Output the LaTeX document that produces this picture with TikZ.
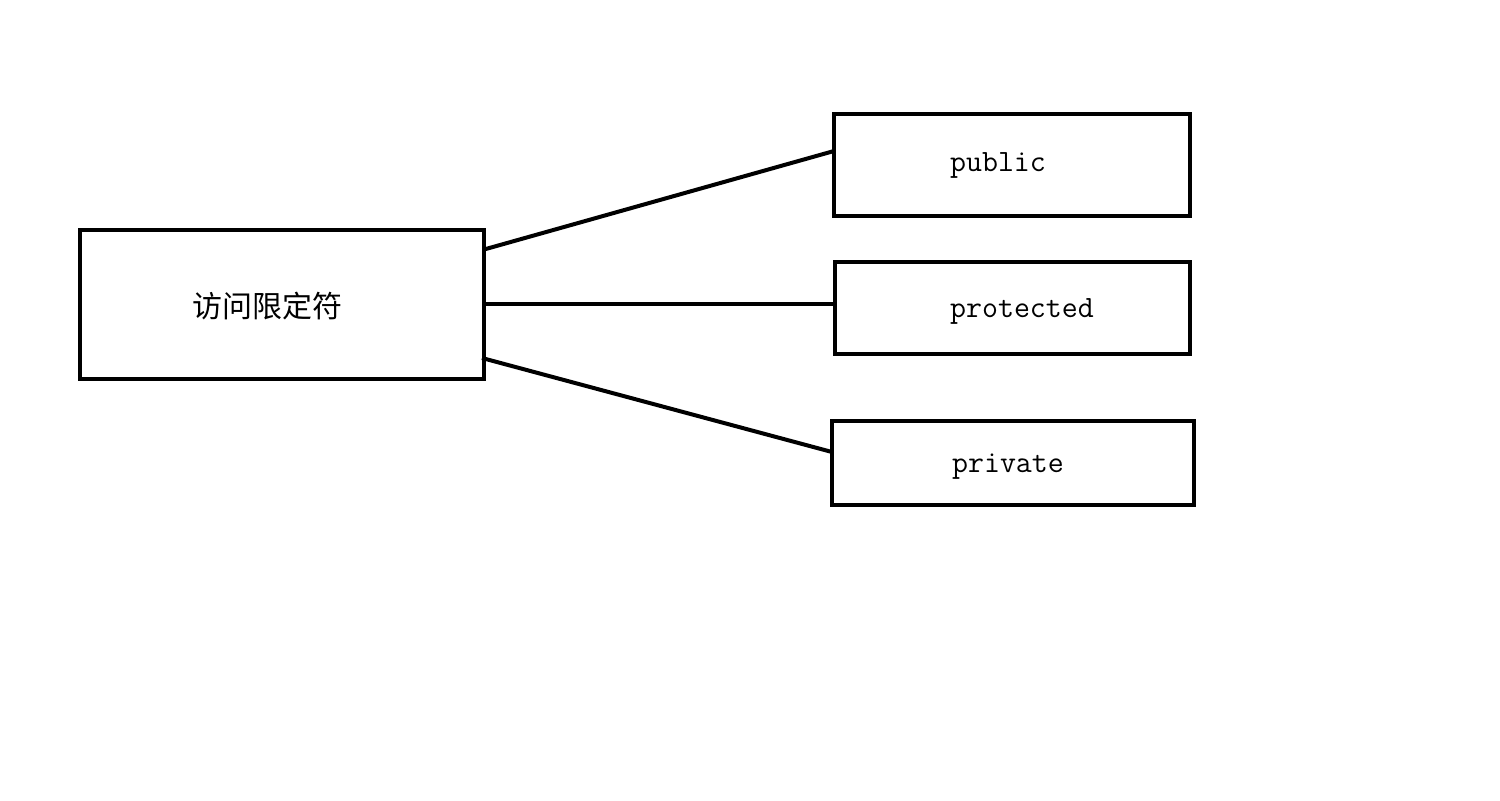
\documentclass[tikz,border=0pt]{standalone}
\usepackage{fontspec}
\newfontfamily\cjk{Noto Sans CJK SC}
\usetikzlibrary{calc}
\begin{document}
\begin{tikzpicture}[x=0.5pt,y=-0.5pt,
  box/.style={draw=black,line width=2pt,rectangle,inner sep=0pt,outer sep=0pt},
  lbl/.style={inner sep=0pt,font=\ttfamily\fontsize{15.5}{18}\selectfont},
  conn/.style={draw=black,line width=2pt}]
\useasboundingbox (0,0) rectangle (1500,800);
\node[box,minimum width=202pt,minimum height=74.5pt] (main) at (282,304.5) {};
\node[box,minimum width=178pt,minimum height=51pt] (pub) at (1012,165) {};
\node[box,minimum width=177.5pt,minimum height=46pt] (prot) at (1012.5,308) {};
\node[box,minimum width=181pt,minimum height=42pt] (priv) at (1013,463) {};
\node[inner sep=0pt,font=\cjk\fontsize{15}{18}\selectfont] (tmain) at (267,306) {访问限定符};
\node[lbl] (tpub) at (998,165) {public};
\node[lbl] (tprot) at (1022,311) {protected};
\node[lbl] (tpriv) at (1008,467) {private};
\draw[conn] ($(main.east)+(0,-55)$) -- ($(pub.west)+(0,-14)$);
\draw[conn] ($(main.east)+(0,-0.5)$) -- ($(prot.west)+(0,-4)$);
\draw[conn] ($(main.east)+(-2,53.5)$) -- ($(priv.west)+(0,-11)$);
\end{tikzpicture}
\end{document}
